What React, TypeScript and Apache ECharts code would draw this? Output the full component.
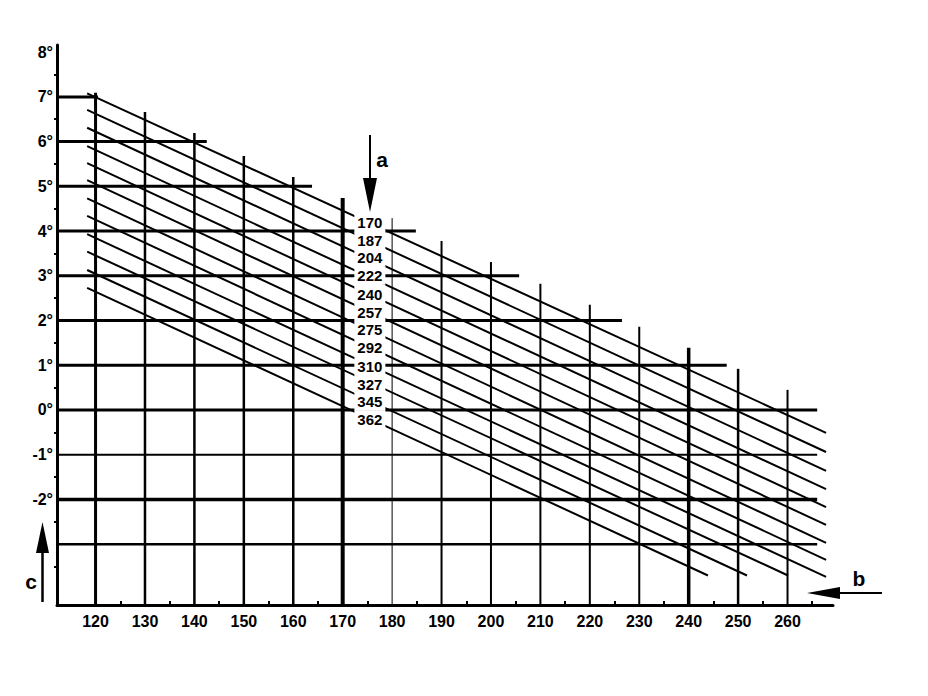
import React, { useEffect, useRef } from "react";
import * as echarts from "echarts";

// ---- axis ticks ----
const xTickValues = [120, 130, 140, 150, 160, 170, 180, 190, 200, 210, 220, 230, 240, 250, 260];
const xMinorTicks = [125, 135, 145, 155, 165, 175, 185, 195, 205, 215, 225, 235, 245, 255, 265];
const yTickValues = [-2, -1, 0, 1, 2, 3, 4, 5, 6, 7, 8];
const yMinorTicks = [-3.5, -2.5, -1.5, -0.5, 0.5, 1.5, 2.5, 3.5, 4.5, 5.5, 6.5, 7.5];
const X_MIN = 112.2;
const X_MAX = 269.2;
const Y_MIN = -4.36;
const Y_MAX = 8.16;

// ---- horizontal grid lines (degree level, right end on x scale) ----
const hLevels = [7, 6, 5, 4, 3, 2, 1, 0, -1, -2, -3];
const hEnds = [120.5, 142.5, 163.8, 184.8, 205.7, 226.5, 247.7, 266, 266, 266, 266];

// ---- vertical grid lines (x value, top on degree scale) ----
const vXs = [120, 130, 140, 150, 160, 170, 180, 190, 200, 210, 220, 230, 240, 250, 260];
const vTops = [7.09, 6.66, 6.19, 5.68, 5.21, 4.74, 4.29, 3.78, 3.31, 2.82, 2.35, 1.86, 1.39, 0.92, 0.45];
const vBottom = -4.45;

// ---- diagonal family (parameter a) ----
const diagLabels = ["170", "187", "204", "222", "240", "257", "275", "292", "310", "327", "345", "362"];
const diagStartX = [118.3, 118.3, 118.3, 118.3, 118.3, 118.3, 118.3, 118.3, 118.3, 118.3, 118.3, 118.3];
const diagStartY = [7.08, 6.71, 6.31, 5.9, 5.52, 5.14, 4.73, 4.34, 3.93, 3.54, 3.13, 2.73];
const diagEndX = [267.8, 267.8, 267.8, 267.8, 267.8, 267.8, 267.8, 267.8, 267.8, 260.1, 251.8, 243.9];
const diagEndY = [-0.51, -0.94, -1.36, -1.77, -2.17, -2.57, -2.97, -3.35, -3.73, -3.7, -3.7, -3.7];
const diagLabelX = [175.5, 175.5, 175.5, 175.5, 175.5, 175.5, 175.5, 175.5, 175.5, 175.5, 175.5, 175.5];
const diagLabelY = [4.2, 3.8, 3.4, 3.0, 2.59, 2.19, 1.79, 1.39, 0.98, 0.58, 0.18, -0.22];

// ---- styles (kept apart from data) ----
const FONT = "Liberation Sans";
const hWidths = [3, 3, 3, 3, 3, 3, 3, 3, 2, 3.5, 2.5];
const vWidths = [3, 2.5, 2.5, 2.5, 2.5, 4, 1, 2, 2, 2, 2, 2, 3.5, 2.5, 2];
const diagWidth = 2;

function seg(data: number[][], width: number) {
  return {
    type: "line",
    data,
    symbol: "none",
    silent: true,
    lineStyle: { color: "#000", width, cap: "butt" },
    z: 2,
  };
}

export default function App() {
  const ref = useRef<HTMLDivElement>(null);
  useEffect(() => {
    if (!ref.current) return;
    const chart = echarts.init(ref.current, null, { renderer: "svg" });
    const series: any[] = [];
    hLevels.forEach((lv, i) => series.push(seg([[X_MIN, lv], [hEnds[i], lv]], hWidths[i])));
    vXs.forEach((x, i) => series.push(seg([[x, vBottom], [x, vTops[i]]], vWidths[i])));
    diagLabels.forEach((_, i) =>
      series.push(seg([[diagStartX[i], diagStartY[i]], [diagEndX[i], diagEndY[i]]], diagWidth))
    );
    series.push({
      type: "scatter",
      data: diagLabels.map((t, i) => ({ name: t, value: [diagLabelX[i], diagLabelY[i]] })),
      symbol: "rect",
      symbolSize: 1,
      itemStyle: { color: "#fff" },
      silent: true,
      z: 10,
      label: {
        show: true,
        position: "inside",
        formatter: "{b}",
        color: "#000",
        opacity: 1,
        textBorderWidth: 0,
        fontFamily: FONT,
        fontWeight: "bold",
        fontSize: 15,
        lineHeight: 14,
        backgroundColor: "#fff",
        padding: [2, 3],
      },
      labelLayout: { hideOverlap: false },
    });

    chart.setOption({
      animation: false,
      backgroundColor: "#fff",
      grid: { left: 57, right: 95, top: 45, bottom: 91, containLabel: false },
      xAxis: {
        type: "value",
        min: X_MIN,
        max: X_MAX,
        splitLine: { show: false },
        axisLine: { show: true, onZero: false, lineStyle: { color: "#000", width: 3 } },
        axisTick: { show: true, customValues: xMinorTicks, inside: true, length: 4, lineStyle: { color: "#000", width: 2 } },
        axisLabel: {
          customValues: xTickValues,
          color: "#000",
          fontFamily: FONT,
          fontWeight: "bold",
          fontSize: 16,
          margin: 8,
        },
      },
      yAxis: {
        type: "value",
        min: Y_MIN,
        max: Y_MAX,
        splitLine: { show: false },
        axisLine: { show: true, onZero: false, lineStyle: { color: "#000", width: 3 } },
        axisTick: { show: true, customValues: yMinorTicks, length: 3, lineStyle: { color: "#000", width: 2 } },
        axisLabel: {
          customValues: yTickValues,
          formatter: (v: number) => `${v}°`,
          color: "#000",
          fontFamily: FONT,
          fontWeight: "bold",
          fontSize: 16,
          margin: 4,
        },
      },
      series,
      graphic: [
        { type: "line", shape: { x1: 370, y1: 135, x2: 370, y2: 195 }, style: { stroke: "#000", lineWidth: 2 } },
        { type: "polygon", shape: { points: [[363, 178], [377, 178], [370, 212]] }, style: { fill: "#000" } },
        { type: "text", x: 382, y: 159, style: { text: "a", fontSize: 21, fontWeight: "bold", fontFamily: FONT, fill: "#000", align: "center", verticalAlign: "middle" } },
        { type: "line", shape: { x1: 820, y1: 593, x2: 882, y2: 593 }, style: { stroke: "#000", lineWidth: 2 } },
        { type: "polygon", shape: { points: [[807, 593], [840, 587], [840, 599]] }, style: { fill: "#000" } },
        { type: "text", x: 859, y: 578, style: { text: "b", fontSize: 21, fontWeight: "bold", fontFamily: FONT, fill: "#000", align: "center", verticalAlign: "middle" } },
        { type: "line", shape: { x1: 42.5, y1: 602, x2: 42.5, y2: 540 }, style: { stroke: "#000", lineWidth: 2.5 } },
        { type: "polygon", shape: { points: [[42.5, 522], [36, 553], [49, 553]] }, style: { fill: "#000" } },
        { type: "text", x: 31, y: 581, style: { text: "c", fontSize: 21, fontWeight: "bold", fontFamily: FONT, fill: "#000", align: "center", verticalAlign: "middle" } },
      ],
    });
    return () => chart.dispose();
  }, []);
  return <div ref={ref} style={{ position: "fixed", left: 0, top: 0, width: 928, height: 696 }} />;
}
